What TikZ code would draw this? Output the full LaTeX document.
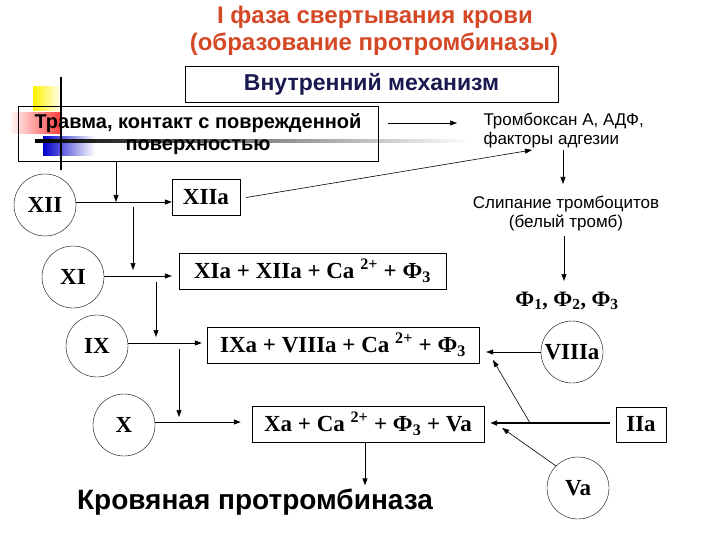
\documentclass[tikz,border=0pt]{standalone}
\usepackage{fontspec}
\setmainfont{Liberation Serif}
\newfontfamily\arialf{Liberation Sans}
\usetikzlibrary{positioning}
\usetikzlibrary{arrows.meta}
\definecolor{titlered}{RGB}{212,72,38}
\definecolor{mechblue}{RGB}{25,25,80}
\tikzset{x=1pt, y=-1pt,
factor/.style={ % circled clotting factors
  circle, draw, thin, minimum size=62pt, inner sep=0pt,
  font=\bfseries\fontsize{23}{25}\selectfont},
complex/.style={ % boxed complexes
  rectangle, draw, thin, minimum height=36pt, inner sep=4pt,
  font=\bfseries\fontsize{23}{25}\selectfont},
heading/.style={font=\arialf\bfseries\fontsize{24}{27}\selectfont, text=titlered},
note/.style={font=\arialf\fontsize{17}{19}\selectfont, align=center},
flow/.style={draw, semithick, -{Triangle[length=7pt,width=5pt]}}}

\begin{document}
\begin{tikzpicture}
	\useasboundingbox (0,0) rectangle (720,540);
	% slide decoration
	\shade[left color=yellow!90!orange, right color=white] (33,87) rectangle (62,111);
	\shade[left color=white, right color=red!75] (8,113) rectangle (60,134);
	\shade[left color=blue!80!black, right color=white] (43,137) rectangle (95,156);
	\shade[left color=black, right color=white] (35,139.5) rectangle (470,142.5);
	\draw[line width=2pt] (61,77) -- (61,170);
	% headings
	\node[heading] (ttl1) at (375,17) {I фаза свертывания крови};
	\node[heading] (ttl2) at (374,44) {(образование протромбиназы)};
	\node[draw, thin, minimum width=373pt, minimum height=36pt, text=mechblue,
	  font=\arialf\bfseries\fontsize{23}{25}\selectfont] (mech) at (371.5,84) {Внутренний механизм};
	\node[draw, thin, minimum width=360pt, minimum height=55pt, align=center,
	  font=\arialf\bfseries\fontsize{20}{22}\selectfont] (trauma) at (198,134) {Травма, контакт с поврежденной\\поверхностью};
	\node[note, align=left, anchor=west] (tbx) at (480,131) {Тромбоксан А, АДФ,\\факторы адгезии};
	\node[note] (clump) at (566,214) {Слипание тромбоцитов\\(белый тромб)};
	\node[font=\bfseries\fontsize{22}{25}\selectfont] (phis) at (567,301) {Ф\textsubscript{1}, Ф\textsubscript{2}, Ф\textsubscript{3}};
	% factors
	\node[factor] (xii) at (45,205) {XII};
	\node[factor] (xi) at (73,277) {XI};
	\node[factor] (ix) at (97,346) {IX};
	\node[factor] (x) at (124,425) {X};
	\node[factor] (viiia) at (572,352) {VIIIa};
	\node[factor] (va) at (578,488) {Va};
	% complexes
	\node[complex, minimum width=68pt] (xiia) at (206,197.5) {XIIa};
	\node[complex, minimum width=267pt] (xia) at (312.5,271) {XIa + XIIa + Ca \textsuperscript{2+} + Ф\textsubscript{3}};
	\node[complex, minimum width=272pt] (ixa) at (343,345) {IXa + VIIIa + Ca \textsuperscript{2+} + Ф\textsubscript{3}};
	\node[complex, minimum width=232pt] (xa) at (368,424) {Xa + Ca \textsuperscript{2+} + Ф\textsubscript{3} + Va};
	\node[complex, minimum width=50pt, minimum height=35pt] (iia) at (641,424.5) {IIa};
	\node[font=\arialf\bfseries\fontsize{28}{30}\selectfont] (prot) at (255,502) {Кровяная протромбиназа};
	% junction points
	\coordinate (j1) at (116,202);
	\coordinate (j2) at (133,207);
	\coordinate (j3) at (133,270);
	\coordinate (j4) at (156,282);
	\coordinate (j5) at (156,337);
	\coordinate (j6) at (179,349);
	\coordinate (j7) at (179,417);
	\coordinate (t1) at (388,123);
	\coordinate (t2) at (457,123);
	\coordinate (t3) at (532,150);
	\coordinate (t4) at (563,150);
	\coordinate (t5) at (563,184);
	\coordinate (t6) at (564,236);
	\coordinate (t7) at (564,281);
	\coordinate (br) at (530,423);
	\coordinate (br2) at (493,360);
	% cascade
	\draw[flow] (trauma.south -| j1) -- (j1);
	\draw[flow, thick] (xii.east |- j1) -- (xiia.west |- j1);
	\draw[flow] (j2) -- (j3);
	\draw[flow] (xi.east |- 0,276) -- ([xshift=-7pt]xia.west |- 0,276);
	\draw[flow] (j4) -- (j5);
	\draw[flow, thick] (ix.east |- 0,343) -- ([xshift=-5pt]ixa.west |- 0,343);
	\draw[flow] (j6) -- (j7);
	\draw[flow, thick] (x.east |- 0,422) -- ([xshift=-11pt]xa.west |- 0,422);
	\draw[flow] (xa.south -| 365,0) -- (prot.north -| 365,0);
	% platelet branch
	\draw[flow] (t1) -- (t2);
	\draw[flow] ([xshift=6pt]xiia.east) -- (t3);
	\draw[flow] (t4) -- (t5);
	\draw[flow] (t6) -- (t7);
	% feedback
	\draw[flow] (viiia.west) -- ([xshift=7pt]ixa.east |- viiia.west);
	\draw[flow, line width=2.5pt] ([xshift=-6pt]iia.west |- br) -- ([xshift=6pt]xa.east |- br);
	\draw[flow] (br) -- (br2);
	\draw[flow] (va.north west) -- ([xshift=18pt,yshift=-4pt]xa.east);
\end{tikzpicture}
\end{document}
